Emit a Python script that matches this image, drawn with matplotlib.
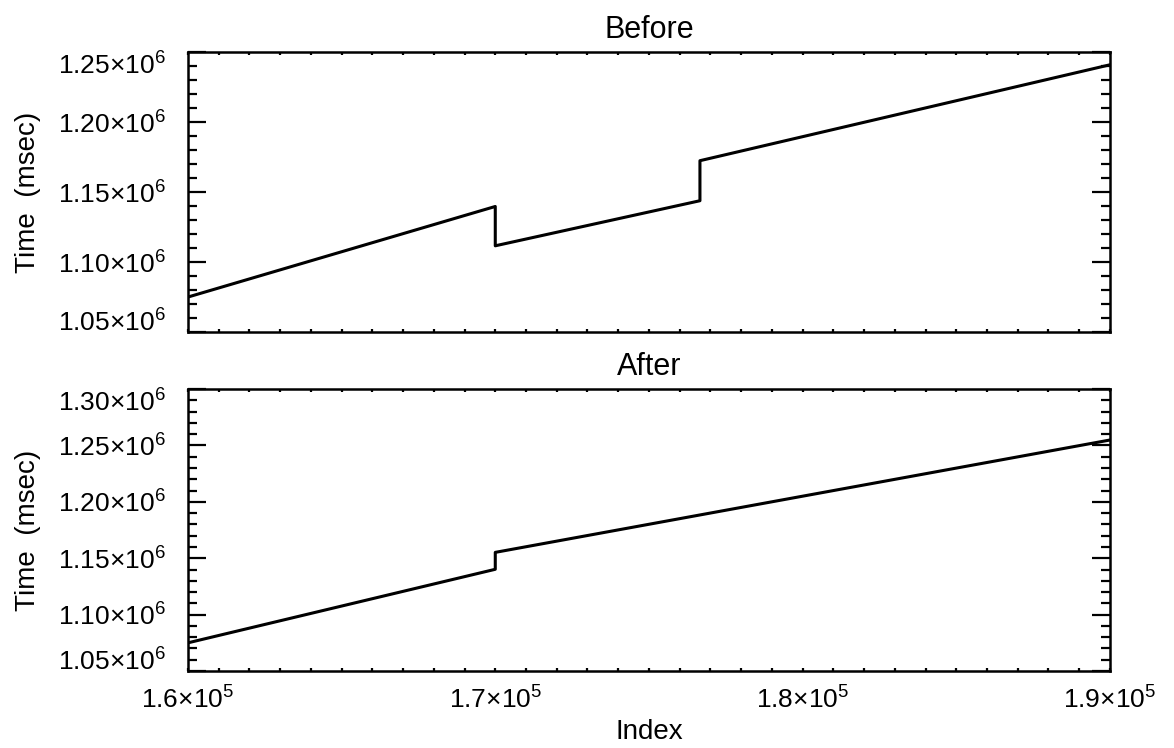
"""Time vs index, before and after fixing the clock jumps."""

import matplotlib
matplotlib.use('Agg')
import matplotlib.pyplot as plt
import matplotlib.transforms as mtransforms
from matplotlib.ticker import FixedLocator, MultipleLocator

plt.rcParams['font.family'] = 'Liberation Sans'
plt.rcParams['mathtext.fontset'] = 'custom'
plt.rcParams['mathtext.rm'] = 'Liberation Sans'
plt.rcParams['mathtext.it'] = 'Liberation Sans'

# Breakpoints of the time series (repeated index = vertical jump)
before_index = [1.6e5, 1.7e5, 1.7e5, 1.7666e5, 1.7666e5, 1.9e5]
before_time = [1.075e6, 1.1397e6, 1.1116e6, 1.1438e6, 1.1724e6, 1.2409e6]

after_index = [1.6e5, 1.7e5, 1.7e5, 1.9e5]
after_time = [1.075e6, 1.1402e6, 1.1552e6, 1.2548e6]

x_ticks = [1.6e5, 1.7e5, 1.8e5, 1.9e5]
x_labels = ['1.6×10$^{5}$', '1.7×10$^{5}$', '1.8×10$^{5}$', '1.9×10$^{5}$']

before_yticks = [1.05e6, 1.10e6, 1.15e6, 1.20e6, 1.25e6]
before_ylabels = ['1.05×10$^{6}$', '1.10×10$^{6}$', '1.15×10$^{6}$',
                  '1.20×10$^{6}$', '1.25×10$^{6}$']
after_yticks = [1.05e6, 1.10e6, 1.15e6, 1.20e6, 1.25e6, 1.30e6]
after_ylabels = before_ylabels + ['1.30×10$^{6}$']

FS = 19


def style_axes(ax, fig, yticks, ylabels, title):
    ax.set_xlim(1.6e5, 1.9e5)
    ax.set_ylim(yticks[0], yticks[-1])
    ax.xaxis.set_major_locator(FixedLocator(x_ticks))
    ax.xaxis.set_minor_locator(MultipleLocator(1000))
    ax.yaxis.set_major_locator(FixedLocator(yticks))
    ax.yaxis.set_minor_locator(MultipleLocator(1e4))
    ax.set_yticklabels(ylabels, fontsize=FS)
    ax.tick_params(axis='both', which='both', direction='in',
                   top=True, right=True, width=1.6, color='black')
    ax.tick_params(axis='y', which='major', length=13, pad=16)
    ax.tick_params(axis='y', which='minor', length=6.5)
    ax.tick_params(axis='x', which='both', length=2.2, pad=11)
    for sp in ax.spines.values():
        sp.set_linewidth(1.8)
    ax.set_ylabel('Time  (msec)', fontsize=20, labelpad=12)
    ax.set_title(title, fontsize=22, pad=10)

    # end labels sit slightly inside the axis range, as in the original
    ticks = ax.yaxis.get_major_ticks()
    up = mtransforms.ScaledTranslation(0, 8 / 72, fig.dpi_scale_trans)
    down = mtransforms.ScaledTranslation(0, -8 / 72, fig.dpi_scale_trans)
    ticks[0].label1.set_transform(ticks[0].label1.get_transform() + up)
    ticks[-1].label1.set_transform(ticks[-1].label1.get_transform() + down)


fig = plt.figure(figsize=(11.74, 7.48), dpi=100)
ax1 = fig.add_axes([0.1601, 0.5561, 0.7853, 0.3743])
ax2 = fig.add_axes([0.1601, 0.1029, 0.7853, 0.3770])

ax1.plot(before_index, before_time, color='black', linewidth=2.2)
ax2.plot(after_index, after_time, color='black', linewidth=2.2)

style_axes(ax1, fig, before_yticks, before_ylabels, 'Before')
style_axes(ax2, fig, after_yticks, after_ylabels, 'After')

ax1.set_xticklabels([])
ax2.set_xticklabels(x_labels, fontsize=FS)
ax2.set_xlabel('Index', fontsize=20, labelpad=4)

fig.savefig('out.png', dpi=100)
